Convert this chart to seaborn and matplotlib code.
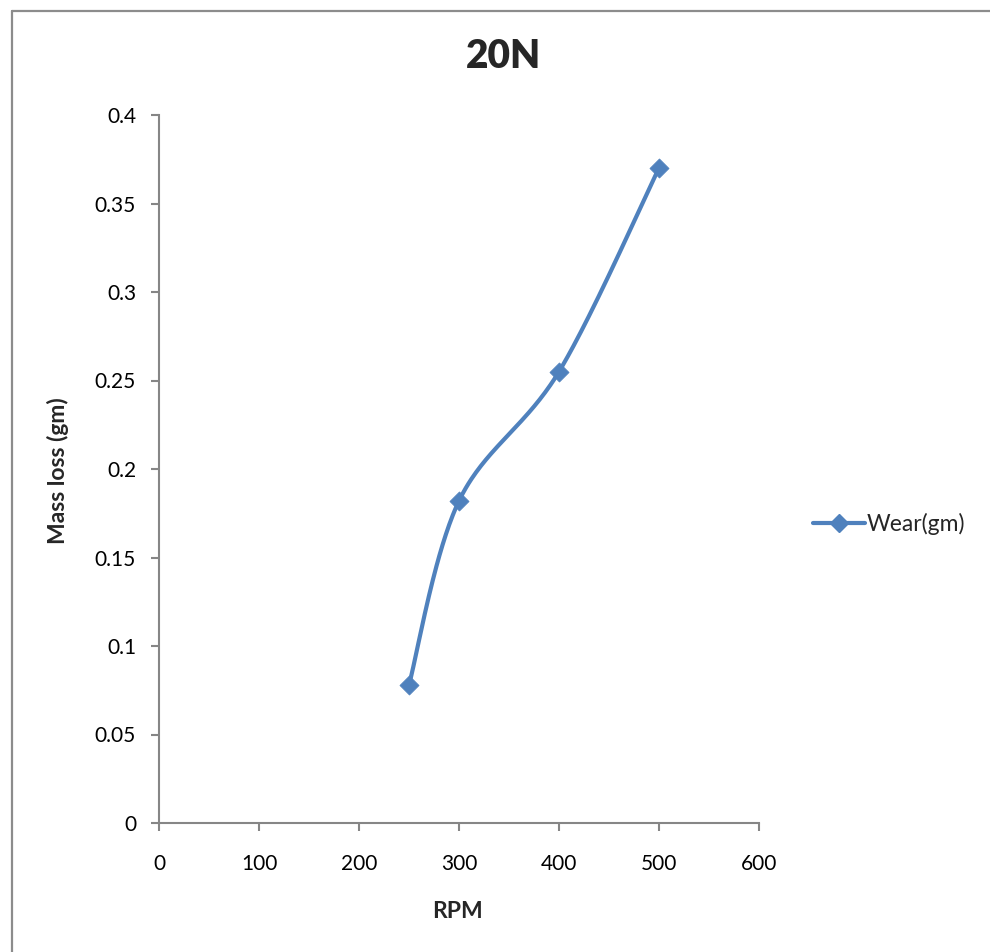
import numpy as np
import pandas as pd
import matplotlib
matplotlib.use("Agg")
import matplotlib.pyplot as plt
from matplotlib.lines import Line2D
import seaborn as sns

# Wear test at 20 N load
rpm = [250, 300, 400, 500]
mass_loss = [0.078, 0.182, 0.255, 0.370]
series_name = "Wear(gm)"
x_ticks = [0, 100, 200, 300, 400, 500, 600]
y_ticks = [0, 0.05, 0.1, 0.15, 0.2, 0.25, 0.3, 0.35, 0.4]
y_tick_labels = ["0", "0.05", "0.1", "0.15", "0.2", "0.25", "0.3", "0.35", "0.4"]

sns.set_theme(style="white")
plt.rcParams["font.family"] = ["Lato", "DejaVu Sans"]

BLUE = "#4F81BD"
GREY = "#868686"

fig = plt.figure(figsize=(9.9, 9.52), dpi=100)
ax = fig.add_axes([159 / 990, 1 - 823 / 952, 600 / 990, 708 / 952])


def smooth_curve(xs, ys, sx, sy, n=60):
    """Catmull-Rom style Bezier smoothing, computed in screen-scaled space."""
    p = np.column_stack([np.asarray(xs, float) * sx, np.asarray(ys, float) * sy])
    ext = np.vstack([p[0], p, p[-1]])
    out = []
    t = np.linspace(0, 1, n)[:, None]
    for i in range(1, len(ext) - 2):
        p0, p1, p2, p3 = ext[i - 1], ext[i], ext[i + 1], ext[i + 2]
        c1 = p1 + (p2 - p0) / 6
        c2 = p2 - (p3 - p1) / 6
        seg = ((1 - t) ** 3) * p1 + 3 * ((1 - t) ** 2) * t * c1 + 3 * (1 - t) * t ** 2 * c2 + t ** 3 * p2
        out.append(seg if i == 1 else seg[1:])
    pts = np.vstack(out)
    return pts[:, 0] / sx, pts[:, 1] / sy


# pixels per data unit on each axis
cx, cy = smooth_curve(rpm, mass_loss, 600 / 600, 708 / 0.4)
curve = pd.DataFrame({"RPM": cx, "loss": cy})
points = pd.DataFrame({"RPM": rpm, "loss": mass_loss})

sns.lineplot(data=curve, x="RPM", y="loss", sort=False, ax=ax,
             color=BLUE, linewidth=3.0, legend=False, estimator=None)
sns.scatterplot(data=points, x="RPM", y="loss", ax=ax, marker="D",
                s=95, color=BLUE, edgecolor=BLUE, linewidth=0.5, zorder=3, legend=False)

ax.set_xlim(0, 600)
ax.set_ylim(0, 0.4)
ax.set_xticks(x_ticks)
ax.set_xticklabels([str(v) for v in x_ticks])
ax.set_yticks(y_ticks)
ax.set_yticklabels(y_tick_labels)

for side in ["top", "right"]:
    ax.spines[side].set_visible(False)
for side in ["left", "bottom"]:
    ax.spines[side].set_color(GREY)
    ax.spines[side].set_linewidth(1.5)

ax.tick_params(axis="x", direction="out", length=5.5, width=1.5, color=GREY,
               pad=17, labelsize=15, labelcolor="black", bottom=True)
ax.tick_params(axis="y", direction="out", length=5.5, width=1.5, color=GREY,
               pad=11, labelsize=15, labelcolor="black", left=True)
ax.grid(False)

ax.set_xlabel("")
ax.set_ylabel("")
fig.text(458 / 990, 1 - 912 / 952, "RPM", ha="center", va="center",
         fontsize=16.5, fontweight="bold")
fig.text(58 / 990, 1 - 471 / 952, "Mass loss (gm)", ha="center", va="center",
         rotation=90, fontsize=16.5, fontweight="bold")
fig.text(504 / 990, 1 - 57 / 952, "20N", ha="center", va="center",
         fontsize=28, fontweight="heavy")

handle = Line2D([], [], color=BLUE, linewidth=3.0, marker="D", markersize=9,
                markerfacecolor=BLUE, markeredgecolor=BLUE)
fig.legend([handle], [series_name], loc="center left",
           bbox_to_anchor=(813 / 990, 1 - 524 / 952), frameon=False,
           fontsize=16.5, handlelength=2.25, handletextpad=0.1, borderpad=0,
           borderaxespad=0)

# outer chart border (left and top edges)
bx, by = 11.5 / 990, 1 - 10.5 / 952
fig.add_artist(Line2D([bx, bx], [-0.05, by], transform=fig.transFigure,
                      color="#8C8C8C", linewidth=1.6))
fig.add_artist(Line2D([bx, 1.05], [by, by], transform=fig.transFigure,
                      color="#8C8C8C", linewidth=1.6))

fig.savefig("out.png", dpi=100, facecolor="white")
